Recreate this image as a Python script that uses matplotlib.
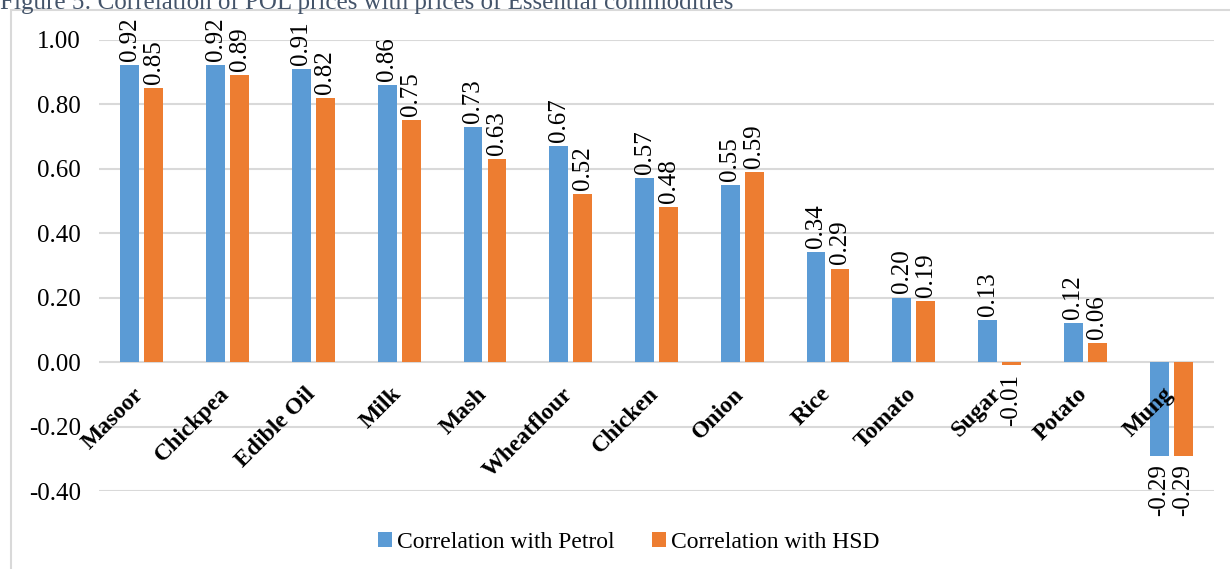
import matplotlib.pyplot as plt
import numpy as np
from matplotlib.patches import Rectangle

plt.rcParams['font.family'] = ['Liberation Serif', 'DejaVu Serif']

# correlation of fuel prices with commodity prices
commodities = ['Masoor', 'Chickpea', 'Edible Oil', 'Milk', 'Mash', 'Wheatflour',
               'Chicken', 'Onion', 'Rice', 'Tomato', 'Sugar', 'Potato', 'Mung']
petrol = [0.92, 0.92, 0.91, 0.86, 0.73, 0.67, 0.57, 0.55, 0.34, 0.20, 0.13, 0.12, -0.29]
hsd = [0.85, 0.89, 0.82, 0.75, 0.63, 0.52, 0.48, 0.59, 0.29, 0.19, -0.01, 0.06, -0.29]
yticks = [-0.40, -0.20, 0.00, 0.20, 0.40, 0.60, 0.80, 1.00]

blue = '#5B9BD5'
orange = '#ED7D31'
grid = '#D9D9D9'

fig = plt.figure(figsize=(12.3, 5.69), dpi=100)
ax = fig.add_axes([0.0805, 0.137, 0.9065, 0.7933])

x = np.arange(len(commodities))
w = 0.22
off = 0.14
b1 = ax.bar(x - off, petrol, w, color=blue, label='Correlation with Petrol', zorder=3)
b2 = ax.bar(x + off, hsd, w, color=orange, label='Correlation with HSD', zorder=3)

# rotated value labels at the end of each bar
for bars, vals in ((b1, petrol), (b2, hsd)):
    for bar, v in zip(bars, vals):
        cx = bar.get_x() + bar.get_width() / 2
        if v >= 0:
            ax.annotate(f'{v:.2f}', (cx, v), xytext=(0, 3), textcoords='offset points',
                        rotation=90, ha='center', va='bottom', fontsize=18)
        else:
            ax.annotate(f'{v:.2f}', (cx, v), xytext=(0, -6), textcoords='offset points',
                        rotation=90, ha='center', va='top', fontsize=18)

ax.set_xlim(-0.5, len(commodities) - 0.5)
ax.set_ylim(-0.40, 1.00)
ax.set_yticks(yticks)
ax.set_yticklabels([f'{t:.2f}' for t in yticks], fontsize=18)
ax.tick_params(axis='y', length=0, pad=13)
ax.set_xticks([])
ax.yaxis.grid(True, color=grid, linewidth=1.5, zorder=0)
ax.set_axisbelow(True)
for s in ax.spines.values():
    s.set_visible(False)

# category names sit just under the zero line
for i, name in enumerate(commodities):
    ax.text(i - 0.10, -0.067, name, rotation=45, rotation_mode='anchor',
            ha='right', va='top', fontsize=17, fontweight='bold', zorder=4)

ax.legend(loc='lower center', bbox_to_anchor=(0.475, -0.185), ncol=2, frameon=False,
          fontsize=17, handlelength=0.6, handleheight=0.6, handletextpad=0.2,
          columnspacing=1.6)

# chart area border and caption
fig.patches.append(Rectangle((11 / 1230, -0.1), 1.2, 1.1 - 10 / 569, transform=fig.transFigure,
                             fill=False, edgecolor=grid, linewidth=1.5))
fig.text(0.0, 1.0 + 0.016, 'Figure 5: Correlation of POL prices with prices of Essential commodities',
         ha='left', va='top', fontsize=18, color='#44546A')

fig.savefig('out.png', dpi=100)
